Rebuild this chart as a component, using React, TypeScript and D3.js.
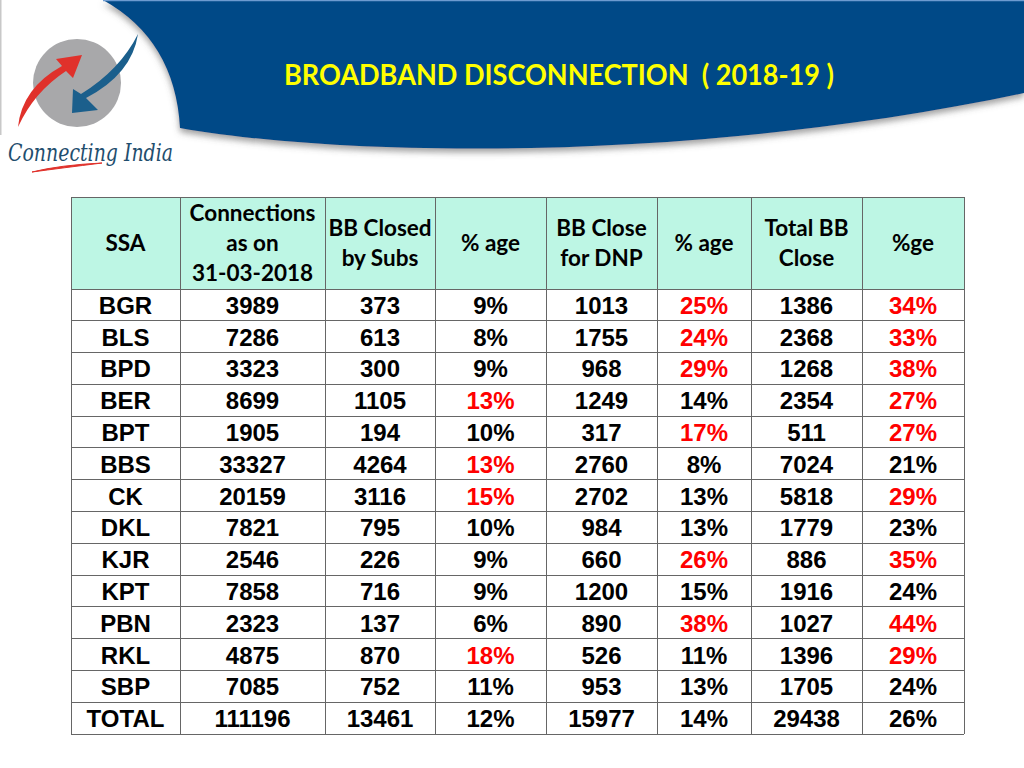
import React from "react";
import * as d3 from "d3";

const title = "BROADBAND DISCONNECTION  ( 2018-19 )";
const headers: string[][] = [
  ["SSA"],
  ["Connections", "as on", "31-03-2018"],
  ["BB Closed", "by Subs"],
  ["% age"],
  ["BB Close", "for DNP"],
  ["% age"],
  ["Total BB", "Close"],
  ["%ge"],
];
const ssa = ["BGR", "BLS", "BPD", "BER", "BPT", "BBS", "CK", "DKL", "KJR", "KPT", "PBN", "RKL", "SBP", "TOTAL"];
const connections = [3989, 7286, 3323, 8699, 1905, 33327, 20159, 7821, 2546, 7858, 2323, 4875, 7085, 111196];
const closedBySubs = [373, 613, 300, 1105, 194, 4264, 3116, 795, 226, 716, 137, 870, 752, 13461];
const pctSubs = [9, 8, 9, 13, 10, 13, 15, 10, 9, 9, 6, 18, 11, 12];
const closedDNP = [1013, 1755, 968, 1249, 317, 2760, 2702, 984, 660, 1200, 890, 526, 953, 15977];
const pctDNP = [25, 24, 29, 14, 17, 8, 13, 13, 26, 15, 38, 11, 13, 14];
const totalClose = [1386, 2368, 1268, 2354, 511, 7024, 5818, 1779, 886, 1916, 1027, 1396, 1705, 29438];
const pctTotal = [34, 33, 38, 27, 27, 21, 29, 23, 35, 24, 44, 29, 24, 26];
// highlight thresholds (values at or above are shown in red)
const redFrom = { subs: 13, dnp: 17, total: 27 };

const colEdges = [71, 180, 325, 435, 546, 657, 751, 862, 964];
const headTop = 197;
const headBottom = 289;
const tableBottom = 734;

export default function App() {
  const rowY = d3.scaleBand<string>().domain(ssa).range([headBottom, tableBottom]).padding(0);
  const colX = d3.scaleOrdinal<number, number>().domain(d3.range(8)).range(d3.range(8).map((i) => (colEdges[i] + colEdges[i + 1]) / 2));

  const red = "#ff0000";
  const black = "#000000";
  const columns: { v: (i: number) => string; c: (i: number) => string }[] = [
    { v: (i) => ssa[i], c: () => black },
    { v: (i) => String(connections[i]), c: () => black },
    { v: (i) => String(closedBySubs[i]), c: () => black },
    { v: (i) => pctSubs[i] + "%", c: (i) => (pctSubs[i] >= redFrom.subs ? red : black) },
    { v: (i) => String(closedDNP[i]), c: () => black },
    { v: (i) => pctDNP[i] + "%", c: (i) => (pctDNP[i] >= redFrom.dnp ? red : black) },
    { v: (i) => String(totalClose[i]), c: () => black },
    { v: (i) => pctTotal[i] + "%", c: (i) => (pctTotal[i] >= redFrom.total ? red : black) },
  ];

  const headMid = (headTop + headBottom) / 2;
  const lineGap = 30;

  return (
    <svg width={1024} height={768} style={{ position: "absolute", left: 0, top: 0, background: "#fff" }}>
      <defs>
        <filter id="shadow" x="-10%" y="-10%" width="120%" height="140%">
          <feDropShadow dx="0" dy="4" stdDeviation="3" floodColor="#555" floodOpacity="0.55" />
        </filter>
      </defs>
      {/* faint left border */}
      <line x1={0.75} y1={0} x2={0.75} y2={135} stroke="#c8c8c8" strokeWidth={1.5} />
      {/* banner */}
      <path
        d="M103,0 Q175,40 180,128 C350,158 700,162 1024,93 L1024,0 Z"
        fill="#004a87"
        filter="url(#shadow)"
      />
      <line x1={103} y1={0.5} x2={1024} y2={0.5} stroke="#6d9bd0" strokeWidth={1.5} />
      <text
        x={559}
        y={85}
        textAnchor="middle"
        fill="#ffff00"
        fontFamily="Lato, 'Open Sans', sans-serif"
        fontWeight="bold"
        fontSize={28}
        textLength={550}
        lengthAdjust="spacingAndGlyphs"
        style={{ whiteSpace: "pre" }}
      >
        {title}
      </text>
      {/* logo */}
      <circle cx={77} cy={83} r={44} fill="#a8a8aa" />
      <path d="M18,127 Q22,88 62,66 L56,59 L82,55 L73,78 L66,71 Q34,92 18,127 Z" fill="#e0312b" />
      <path d="M138,34 Q132,74 86,98 L98,110 L72,113 L73,89 L81,94 Q120,70 138,34 Z" fill="#1b5f8c" />
      <text
        x={8}
        y={161}
        fill="#1f4e6e"
        fontFamily="'DejaVu Serif', serif"
        fontStyle="italic"
        fontSize={24}
        textLength={165}
        lengthAdjust="spacingAndGlyphs"
      >
        Connecting India
      </text>
      <path d="M32,172 Q60,165 102,163 Q62,168 32,172 Z" fill="#e0312b" stroke="#e0312b" strokeWidth={1} />
      {/* table header */}
      <rect x={colEdges[0]} y={headTop} width={colEdges[8] - colEdges[0]} height={headBottom - headTop} fill="#bdf6e4" />
      {headers.map((lines, ci) =>
        lines.map((ln, li) => (
          <text
            key={ci + "-" + li}
            x={colX(ci)}
            y={headMid + (li - (lines.length - 1) / 2) * lineGap + 7.5}
            textAnchor="middle"
            fontFamily="Lato, 'Open Sans', sans-serif"
            fontWeight="bold"
            fontSize={22.5}
            fill="#000"
            style={{ whiteSpace: "pre" }}
          >
            {ln}
          </text>
        ))
      )}
      {/* body */}
      {ssa.map((s, ri) =>
        columns.map((col, ci) => (
          <text
            key={s + ci}
            x={colX(ci)}
            y={(rowY(s) as number) + rowY.bandwidth() / 2 + 9}
            textAnchor="middle"
            fontFamily="'Liberation Sans', Arial, sans-serif"
            fontWeight="bold"
            fontSize={24}
            fill={col.c(ri)}
          >
            {col.v(ri)}
          </text>
        ))
      )}
      {/* grid lines */}
      <g stroke="#666" strokeWidth={1} shapeRendering="crispEdges">
        {colEdges.map((x, i) => (
          <line key={"v" + i} x1={x} x2={x} y1={headTop} y2={tableBottom} />
        ))}
        <line x1={colEdges[0]} x2={colEdges[8]} y1={headTop} y2={headTop} />
        <line x1={colEdges[0]} x2={colEdges[8]} y1={headBottom} y2={headBottom} />
        {ssa.map((s) => (
          <line key={"h" + s} x1={colEdges[0]} x2={colEdges[8]} y1={(rowY(s) as number) + rowY.bandwidth()} y2={(rowY(s) as number) + rowY.bandwidth()} />
        ))}
      </g>
    </svg>
  );
}
